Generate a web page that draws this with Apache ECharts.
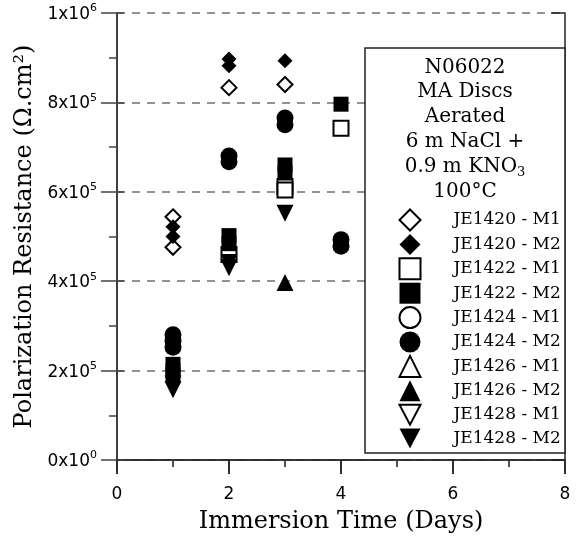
<!DOCTYPE html>
<html>
<head>
<meta charset="utf-8">
<script src="https://cdn.jsdelivr.net/npm/echarts@6/dist/echarts.min.js"></script>
<style>html,body{margin:0;padding:0;background:#fff}#c{width:580px;height:539px}</style>
</head>
<body>
<div id="c"></div>
<script>
// ---- data (x = immersion time in days, y = polarization resistance in ohm.cm2)
const seriesNames = ['JE1420 - M1','JE1420 - M2','JE1422 - M1','JE1422 - M2','JE1424 - M1','JE1424 - M2','JE1426 - M1','JE1426 - M2','JE1428 - M1','JE1428 - M2'];
const je1420m1 = [[1,544000],[1,476000],[2,833000],[3,840000]];
const je1420m2 = [[1,522000],[1,500000],[2,897000],[2,882000],[3,893000]];
const je1422m1 = [[2,460000],[3,612000],[3,604000],[4,742000]];
const je1422m2 = [[1,214000],[1,200000],[1,190000],[2,502000],[2,484000],[3,660000],[3,642000],[4,796000]];
const je1424m1 = [];
const je1424m2 = [[1,280000],[1,266000],[1,252000],[2,680000],[2,667000],[3,765000],[3,750000],[4,493000],[4,478000]];
const je1426m1 = [];
const je1426m2 = [[3,397000]];
const je1428m1 = [];
const je1428m2 = [[1,170000],[1,157000],[2,442000],[2,430000],[3,552000]];
const xTickLabels = ['0','2','4','6','8'];
const yTickMantissa = ['0x10','2x10','4x10','6x10','8x10','1x10'];
const yTickExponent = ['0','5','5','5','5','6'];
const legendTitleLines = ['N06022','MA Discs','Aerated','6 m NaCl +','0.9 m KNO{sub|3}','100°C'];
const xTitle = 'Immersion Time (Days)';
const yTitle = 'Polarization Resistance (\u03A9.cm\u00B2)';

const allData = [je1420m1,je1420m2,je1422m1,je1422m2,je1424m1,je1424m2,je1426m1,je1426m2,je1428m1,je1428m2];
const downTri = 'path://M0,0L10,0L5,9.5Z';
const symbols = ['diamond','diamond','rect','rect','circle','circle','triangle','triangle',downTri,downTri];
const sizes = [15,15,15,15,17,17,17,17,17,17];
const filled = [false,true,false,true,false,true,false,true,false,true];

const chart = echarts.init(document.getElementById('c'), null, {renderer:'canvas'});
const serif = 'DejaVu Serif';
const sans = 'DejaVu Sans';

const series = seriesNames.map((n,i)=>({
  name:n, type:'scatter', xAxisIndex:0, yAxisIndex:0,
  data: allData[i], symbol: symbols[i], symbolSize: sizes[i],
  itemStyle: filled[i] ? {color:'#000', borderColor:'#000', borderWidth:0, opacity:1}
                       : {color:'#fff', borderColor:'#000', borderWidth:2, opacity:1},
  emphasis:{disabled:true}, z: 3
}));

const baseX = {type:'value', min:0, max:8, interval:2};
const baseY = {type:'value', min:0, max:1000000, interval:200000};

chart.setOption({
  animation:false,
  backgroundColor:'#fff',
  grid:{left:117, right:15, top:13, bottom:76, containLabel:false},
  xAxis:[
    Object.assign({}, baseX, {
      position:'bottom',
      axisLine:{show:true, lineStyle:{color:'#444', width:1.5}},
      axisTick:{show:true, inside:false, length:14, lineStyle:{color:'#222', width:1.5}},
      minorTick:{show:true, splitNumber:2, length:7, lineStyle:{color:'#444', width:1.5}},
      splitLine:{show:false},
      axisLabel:{margin:26, fontFamily:sans, fontSize:17, color:'#000',
        formatter:(v)=>xTickLabels[Math.round(v/2)]},
      name:xTitle, nameLocation:'middle', nameGap:50,
      nameTextStyle:{fontFamily:serif, fontSize:24, color:'#000'}
    }),
    Object.assign({}, baseX, {
      position:'top',
      axisLine:{show:true, lineStyle:{color:'#222', width:1.5}},
      axisTick:{show:true, inside:true, length:14, lineStyle:{color:'#222', width:1.5}},
      minorTick:{show:true, splitNumber:2, length:7, lineStyle:{color:'#444', width:1.5}},
      splitLine:{show:false}, axisLabel:{show:false}
    })
  ],
  yAxis:[
    Object.assign({}, baseY, {
      position:'left',
      axisLine:{show:true, lineStyle:{color:'#000', width:1.5}},
      axisTick:{show:true, inside:false, length:16, lineStyle:{color:'#444', width:1.5}},
      minorTick:{show:true, splitNumber:2, length:8, lineStyle:{color:'#444', width:1.5}},
      splitLine:{show:true, lineStyle:{color:'#707070', width:1.5, type:[8,7]}},
      axisLabel:{margin:20, color:'#000',
        formatter:(v)=>{const k=Math.round(v/200000); return '{b|'+yTickMantissa[k]+'}{s|'+yTickExponent[k]+'}';},
        rich:{
          b:{fontFamily:sans, fontSize:17, lineHeight:20, verticalAlign:'bottom', color:'#000'},
          s:{fontFamily:sans, fontSize:11, lineHeight:13, verticalAlign:'top', color:'#000'}
        }},
      name:yTitle, nameLocation:'middle', nameGap:76,
      nameTextStyle:{fontFamily:serif, fontSize:24, color:'#000'}
    }),
    Object.assign({}, baseY, {
      position:'left',
      axisLine:{show:false},
      axisTick:{show:true, inside:true, length:7, lineStyle:{color:'#444', width:1.5}},
      minorTick:{show:false}, splitLine:{show:false}, axisLabel:{show:false}
    }),
    Object.assign({}, baseY, {
      position:'right',
      axisLine:{show:true, lineStyle:{color:'#222', width:1.5}},
      axisTick:{show:true, inside:true, length:14, lineStyle:{color:'#222', width:1.5}},
      minorTick:{show:true, splitNumber:2, length:7, lineStyle:{color:'#444', width:1.5}},
      splitLine:{show:false}, axisLabel:{show:false}
    })
  ],
  graphic:[
    {type:'rect', x:365, y:48, z:50,
      shape:{x:0, y:0, width:200, height:405},
      style:{fill:'#fff', stroke:'#222', lineWidth:1.5}},
    {type:'text', z:51, x:465, y:55,
      style:{text:legendTitleLines.join('\n'), textAlign:'center', textVerticalAlign:'top',
        verticalAlign:'top', align:'center',
        fontFamily:serif, fontSize:20, lineHeight:24.8, fill:'#000',
        rich:{sub:{fontFamily:serif, fontSize:13, lineHeight:13, verticalAlign:'bottom', fill:'#000'}}}}
  ],
  legend:{
    show:true, orient:'vertical', left:398.5, top:208.5, z:60, padding:0,
    itemWidth:21, itemHeight:21, itemGap:2.4, selectedMode:false,
    data:seriesNames,
    textStyle:{fontFamily:serif, fontSize:17, lineHeight:21, color:'#000', padding:[0,0,0,28]}
  },
  series: series
});
</script>
</body>
</html>
